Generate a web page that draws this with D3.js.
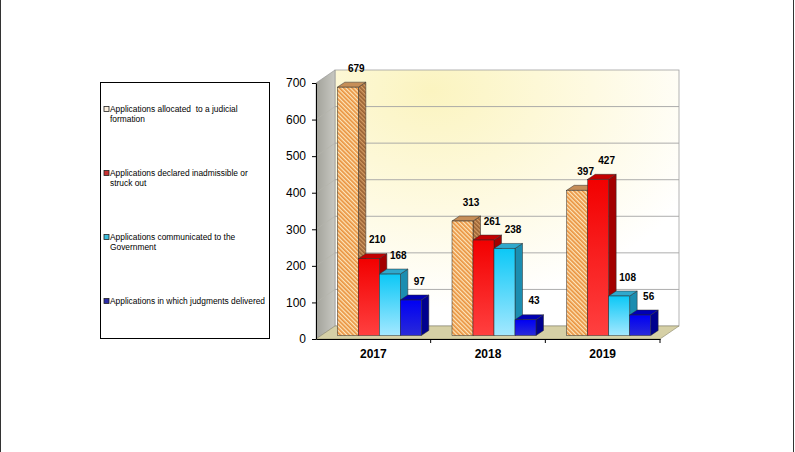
<!DOCTYPE html>
<html><head><meta charset="utf-8">
<script src="https://cdn.jsdelivr.net/npm/d3@7"></script>
<style>
body{margin:0;background:#fff;}
svg{display:block;font-family:"Liberation Sans",Arial,sans-serif;}
</style>
</head><body>
<svg id="c" width="795" height="452"></svg>
<script>
// ---- data ----
const categories = ["2017", "2018", "2019"];
const seriesKeys = ["allocated", "inadmissible", "communicated", "judgments"];
const legendLabels = [
  ["Applications allocated  to a judicial", "formation"],
  ["Applications declared inadmissible or", "struck out"],
  ["Applications communicated to the", "Government"],
  ["Applications in which judgments delivered"]
];
const allocated    = [679, 313, 397];
const inadmissible = [210, 261, 427];
const communicated = [168, 238, 108];
const judgments    = [97, 43, 56];
const yTicks = [0, 100, 200, 300, 400, 500, 600, 700];

const seriesValues = [allocated, inadmissible, communicated, judgments];

// ---- layout ----
const svg = d3.select("#c");
const pLeft = 316, pRight = 660, pBottom = 339, pTop = 83;
const dX = 19, dY = -13;          // wall depth
const groupW = 84;
const barDx = 6, barDy = -3.5;    // bar placement inside depth
const bDx = 7.5, bDy = -5;        // bar depth

const y = d3.scaleLinear().domain([0, 700]).range([pBottom, pTop]);
const x0 = d3.scaleBand().domain(categories).range([pLeft, pRight]);
const x1 = d3.scaleBand().domain(seriesKeys).range([0, groupW]);

const defs = svg.append("defs");
function lin(id, stops, x2, y2) {
  const g = defs.append("linearGradient").attr("id", id)
    .attr("x1", 0).attr("y1", 0).attr("x2", x2).attr("y2", y2);
  stops.forEach(s => g.append("stop").attr("offset", s[0]).attr("stop-color", s[1]));
}
const rg = defs.append("radialGradient").attr("id", "wallG")
  .attr("cx", 0.28).attr("cy", 0.08).attr("r", 0.85);
rg.append("stop").attr("offset", 0).attr("stop-color", "#fbf4c0");
rg.append("stop").attr("offset", 0.55).attr("stop-color", "#fefae2");
rg.append("stop").attr("offset", 1).attr("stop-color", "#ffffff");
lin("sideWallG", [[0, "#a2a29a"], [1, "#c8c8c2"]], 1, 0);
lin("redG", [[0, "#f20000"], [1, "#ff4040"]], 0, 1);
lin("cyanG", [[0, "#0cc8f6"], [1, "#a4e8ff"]], 0, 1);
lin("blueG", [[0, "#0000f4"], [1, "#2a2ad8"]], 0, 1);

function hatch(id, c1, c2) {
  const p = defs.append("pattern").attr("id", id).attr("patternUnits", "userSpaceOnUse")
    .attr("width", 3).attr("height", 3).attr("patternTransform", "rotate(-45)");
  p.append("rect").attr("width", 3).attr("height", 3).attr("fill", c2);
  p.append("rect").attr("width", 1.7).attr("height", 3).attr("fill", c1);
}
hatch("hatchF", "#e9923e", "#fde6bc");
hatch("hatchS", "#9a6234", "#d49c64");

const styles = [
  {front: "url(#hatchF)", side: "url(#hatchS)", topc: "#c68e58", marker: "#fbeedd"},
  {front: "url(#redG)", side: "#a30000", topc: "#c40000", marker: "#c83232"},
  {front: "url(#cyanG)", side: "#1b8db0", topc: "#2fa8cc", marker: "#3cbedd"},
  {front: "url(#blueG)", side: "#00008e", topc: "#0000b4", marker: "#2a2aa8"}
];

// outer frame
svg.append("line").attr("x1", 0.5).attr("x2", 0.5).attr("y1", 0).attr("y2", 452).attr("stroke", "#333");
svg.append("line").attr("x1", 793.5).attr("x2", 793.5).attr("y1", 0).attr("y2", 452).attr("stroke", "#333");

// back wall
svg.append("rect")
  .attr("x", pLeft + dX).attr("y", y(700) + dY)
  .attr("width", pRight - pLeft).attr("height", y(0) - y(700))
  .attr("fill", "url(#wallG)").attr("stroke", "#a0a0a0").attr("stroke-width", 0.8);
// side wall
svg.append("polygon")
  .attr("points", [[pLeft, y(700)], [pLeft + dX, y(700) + dY], [pLeft + dX, y(0) + dY], [pLeft, y(0)]].join(" "))
  .attr("fill", "url(#sideWallG)").attr("stroke", "#909090").attr("stroke-width", 0.6);
// gridlines
yTicks.filter(v => v > 0 && v < 700).forEach(v => {
  svg.append("line").attr("x1", pLeft + dX).attr("x2", pRight + dX)
    .attr("y1", y(v) + dY).attr("y2", y(v) + dY)
    .attr("stroke", "#a4a4a4").attr("stroke-width", 0.9);
  svg.append("line").attr("x1", pLeft).attr("x2", pLeft + dX)
    .attr("y1", y(v)).attr("y2", y(v) + dY)
    .attr("stroke", "#b4b4ac").attr("stroke-width", 0.7);
});
// floor
svg.append("polygon")
  .attr("points", [[pLeft, y(0)], [pLeft + dX, y(0) + dY], [pRight + dX, y(0) + dY], [pRight, y(0)]].join(" "))
  .attr("fill", "#d6d0a6").attr("stroke", "#8a866a").attr("stroke-width", 0.6);

// bars
const barsG = svg.append("g");
categories.forEach((cat, i) => {
  seriesKeys.forEach((key, j) => {
    const v = seriesValues[j][i];
    const st = styles[j];
    const w = x1.bandwidth();
    const bx = x0(cat) + x0.bandwidth() / 2 - groupW / 2 + x1(key) + barDx;
    const yt = y(v) + barDy, yb = y(0) + barDy;
    const g = barsG.append("g");
    g.append("polygon")
      .attr("points", [[bx + w, yt], [bx + w + bDx, yt + bDy], [bx + w + bDx, yb + bDy], [bx + w, yb]].join(" "))
      .attr("fill", st.side).attr("stroke", "#2a2a2a").attr("stroke-width", 0.5);
    g.append("polygon")
      .attr("points", [[bx, yt], [bx + bDx, yt + bDy], [bx + w + bDx, yt + bDy], [bx + w, yt]].join(" "))
      .attr("fill", st.topc).attr("stroke", "#2a2a2a").attr("stroke-width", 0.5);
    g.append("rect").attr("x", bx).attr("y", yt).attr("width", w).attr("height", yb - yt)
      .attr("fill", st.front).attr("stroke", "#2a2a2a").attr("stroke-width", 0.5);
  });
});
// value labels
categories.forEach((cat, i) => {
  seriesKeys.forEach((key, j) => {
    const v = seriesValues[j][i];
    const w = x1.bandwidth();
    const bx = x0(cat) + x0.bandwidth() / 2 - groupW / 2 + x1(key) + barDx;
    svg.append("text").attr("x", bx + w / 2 + 8.5).attr("y", y(v) + barDy - 15.5)
      .attr("text-anchor", "middle").attr("font-size", 10).attr("font-weight", "bold")
      .attr("fill", "#000").text(v);
  });
});

// axes
const ya = svg.append("g").attr("transform", `translate(${pLeft},0)`)
  .call(d3.axisLeft(y).tickValues(yTicks).tickSize(4).tickSizeOuter(0).tickPadding(6));
ya.attr("font-family", null).attr("font-size", null);
ya.selectAll("text").attr("font-size", 12).attr("fill", "#000");
ya.selectAll("line,path").attr("stroke", "#000");

const xa = svg.append("g").attr("transform", `translate(0,${pBottom})`)
  .call(d3.axisBottom(x0).tickSize(0).tickSizeOuter(0).tickPadding(10.5));
xa.attr("font-family", null).attr("font-size", null);
xa.selectAll("text").attr("font-size", 12).attr("font-weight", "bold").attr("fill", "#000");
xa.selectAll("path").attr("stroke", "#000");
categories.forEach(c => {
  xa.append("line").attr("x1", x0(c) + x0.bandwidth()).attr("x2", x0(c) + x0.bandwidth())
    .attr("y1", 0).attr("y2", 4).attr("stroke", "#000");
});

// legend
const lg = svg.append("g");
lg.append("rect").attr("x", 100.5).attr("y", 82.5).attr("width", 169).attr("height", 256)
  .attr("fill", "#fff").attr("stroke", "#000").attr("stroke-width", 1);
legendLabels.forEach((lines, j) => {
  const by = 112 + j * 64;
  lg.append("rect").attr("x", 104).attr("y", by - 5.5).attr("width", 5).attr("height", 5)
    .attr("fill", styles[j].marker).attr("stroke", "#222").attr("stroke-width", 0.8);
  const t = lg.append("text").attr("x", 110).attr("y", by).attr("font-size", 8.4)
    .attr("fill", "#000").style("white-space", "pre");
  lines.forEach((ln, k) => {
    t.append("tspan").attr("x", 110).attr("y", by + k * 10).text(ln);
  });
});
</script>
</body></html>
